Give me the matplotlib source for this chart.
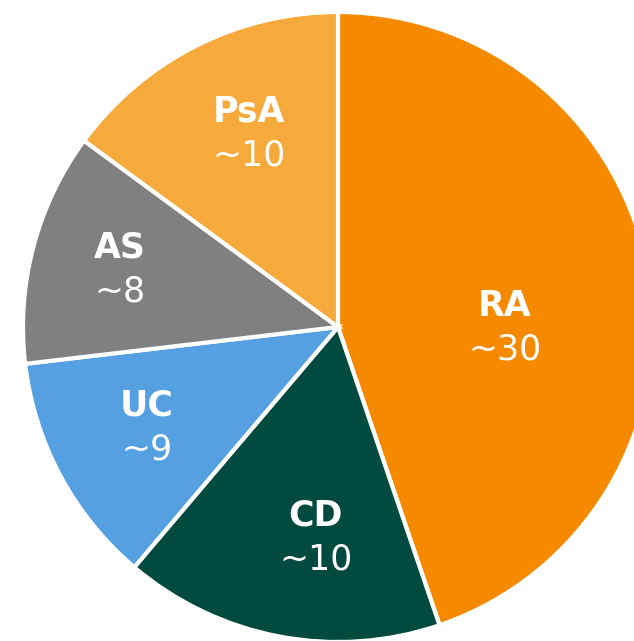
import matplotlib.pyplot as plt

labels = ['RA', 'CD', 'UC', 'AS', 'PsA']
# slice sizes as drawn (the printed labels are rounded approximations)
values = [30, 11, 8, 8, 10]
value_text = ['~30', '~10', '~9', '~8', '~10']
colors = ['#F58A00', '#004A40', '#55A0E0', '#808080', '#F6AA3C']

# label centres in pixel space (x, y from top)
label_pos = [(505, 328), (316, 538), (147, 428), (120, 270), (249, 134)]

W, H = 634, 641
fig = plt.figure(figsize=(W / 100, H / 100), dpi=100)
ax = fig.add_axes([0, 0, 1, 1])

cx, cy, r = 338, 327, 315
ax.pie(values, colors=colors, startangle=90, counterclock=False,
       center=(cx, H - cy), radius=r,
       wedgeprops=dict(edgecolor='white', linewidth=3))
ax.set_xlim(0, W)
ax.set_ylim(0, H)
ax.set_aspect('auto')
ax.axis('off')

for lab, vt, (x, y) in zip(labels, value_text, label_pos):
    ax.text(x, H - y + 22, lab, color='white', fontsize=25, fontweight='bold',
            ha='center', va='center')
    ax.text(x, H - y - 22, vt, color='white', fontsize=25,
            ha='center', va='center')

fig.savefig('out.png', dpi=100)
